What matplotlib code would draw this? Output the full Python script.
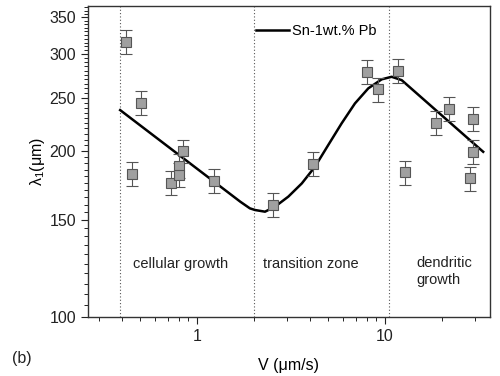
import numpy as np
import matplotlib
matplotlib.use("Agg")
import matplotlib.pyplot as plt
from matplotlib.ticker import FixedLocator, NullFormatter, LogLocator, FuncFormatter

plt.rcParams['font.family'] = ['Liberation Sans', 'DejaVu Sans']
plt.rcParams['mathtext.fontset'] = 'custom'
plt.rcParams['mathtext.rm'] = 'Liberation Sans'
plt.rcParams['mathtext.it'] = 'Liberation Sans:italic'

# measured points (V in um/s, spacing in um)
v_data = [0.418, 0.504, 0.451, 0.84, 0.725, 0.805, 0.805, 1.236,
          2.53, 4.12, 7.99, 9.21, 11.68, 12.77, 18.67, 22.0, 29.3, 29.3, 28.3]
lam_data = [316, 245, 182, 200, 175, 188, 181, 176.6,
            159.7, 189.6, 278.8, 259, 279.6, 183, 225, 239, 229, 199.6, 178.5]
lam_err = [0.05 * l for l in lam_data]

# fitted curve
v_fit = [0.39, 1.70, 1.91, 2.035, 2.30, 2.60, 3.06, 3.61, 4.24, 4.99, 5.88,
         6.92, 8.15, 9.60, 10.85, 12.27, 33.3]
lam_fit = [237.5, 161.9, 157.5, 156.4, 155.3, 158.6, 165.4, 174.8, 187.4, 205.2, 224.7,
           244.2, 260.1, 270.1, 273.0, 269.2, 199.5]

# regime boundaries
v_bounds = [0.39, 2.0, 10.5]

fig = plt.figure(figsize=(5, 3.76), dpi=100)
ax = fig.add_axes([0.176, 0.157, 0.804, 0.827])

for vb in v_bounds:
    ax.axvline(vb, color='#555555', ls=(0, (1, 2)), lw=0.8, zorder=1)

ax.plot(v_fit, lam_fit, color='black', lw=1.8, label='Sn-1wt.% Pb', zorder=3,
        solid_joinstyle='round')
ax.errorbar(v_data, lam_data, yerr=lam_err, fmt='s', ms=7, mfc='#a0a0a0',
            mec='#555555', mew=0.8, ecolor='#555555', elinewidth=0.8,
            capsize=4.5, capthick=0.8, zorder=4)

ax.set_xscale('log')
ax.set_yscale('log')
ax.set_xlim(0.263, 36.2)
ax.set_ylim(100, 367)

ax.yaxis.set_major_locator(FixedLocator([100, 150, 200, 250, 300, 350]))
ax.yaxis.set_minor_locator(FixedLocator(np.arange(100, 366, 5)))
ax.yaxis.set_major_formatter(FuncFormatter(lambda y, p: '%d' % y))
ax.yaxis.set_minor_formatter(NullFormatter())
ax.xaxis.set_major_locator(FixedLocator([1, 10]))
ax.xaxis.set_minor_locator(LogLocator(base=10, subs=np.arange(2, 10)))
ax.xaxis.set_major_formatter(FuncFormatter(lambda x, p: '%d' % x))
ax.xaxis.set_minor_formatter(NullFormatter())

ax.tick_params(which='major', length=5, width=0.8, labelsize=11.5, colors='#222222')
ax.tick_params(which='minor', length=3, width=0.6)
for s in ax.spines.values():
    s.set_color('#333333')
    s.set_linewidth(1.0)

ax.set_xlabel('V (μm/s)', fontsize=11.5, labelpad=10)
ax.set_ylabel('λ$_1$(μm)', fontsize=11.5, labelpad=2)

ax.text(0.455, 125, 'cellular growth', fontsize=10.5, va='center', color='#222222')
ax.text(2.25, 125, 'transition zone', fontsize=10.5, va='center', color='#222222')
ax.text(14.6, 121, 'dendritic\ngrowth', fontsize=10.5, va='center', ha='left',
        color='#222222', linespacing=1.3)

ax.legend(loc='upper left', bbox_to_anchor=(0.385, 0.985), frameon=False,
          fontsize=10.5, handlelength=2.3, handletextpad=0.2)

fig.text(0.024, 0.035, '(b)', fontsize=11.5, color='#222222')

fig.savefig('out.png', dpi=100)
